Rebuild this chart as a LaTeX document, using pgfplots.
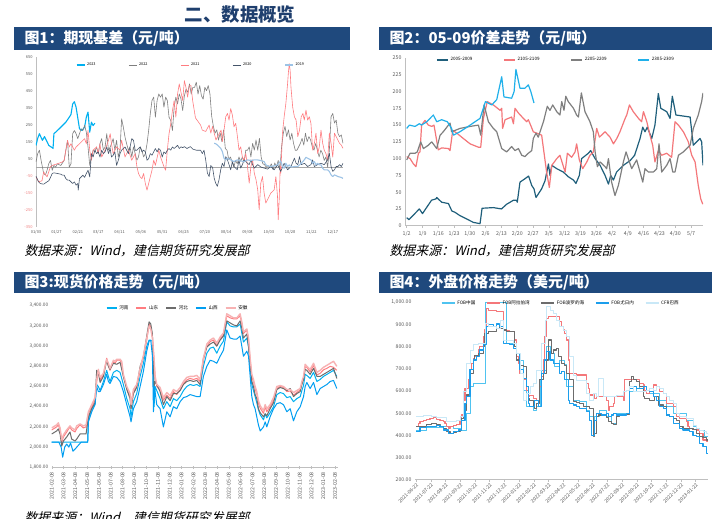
\documentclass[border=0pt]{standalone}
\usepackage{fontspec}
\setmainfont{Noto Sans CJK SC}[AutoFakeSlant=0.22]
\usepackage{pgfplots}
\pgfplotsset{compat=1.18}
\definecolor{hdr}{HTML}{1F497D}
\definecolor{ttl}{HTML}{1F3F6E}
\definecolor{cA}{HTML}{00B0F0}
\definecolor{cGray}{HTML}{7F7F7F}
\definecolor{cRed}{HTML}{FF7C80}
\definecolor{cNavy}{HTML}{44546A}
\definecolor{cPale}{HTML}{9DC3E6}
\definecolor{cTeal}{HTML}{1F5F7B}
\definecolor{cRed2}{HTML}{F4777A}
\definecolor{cBlue2}{HTML}{1FB0EA}
\definecolor{cPink}{HTML}{F7B2B3}
\definecolor{cFobCn}{HTML}{4FC3F0}
\definecolor{cBrazil}{HTML}{C9E8F7}
\definecolor{axgray}{HTML}{BFBFBF}
\definecolor{lblgray}{HTML}{595959}
\definecolor{negred}{HTML}{F08080}
\pgfplotsset{
  panel/.style={scale only axis, anchor=south west, clip=true,
    /pgf/number format/assume math mode=true,
    axis line style={draw=axgray, line width=0.5pt},
    tick style={draw=axgray, line width=0.4pt},
    tick label style={text=lblgray},
    every axis plot/.append style={no markers, line join=round},
    legend style={draw=none, fill=none, legend columns=-1, anchor=center, inner sep=0pt},
    legend cell align=left,
  },
}
\begin{document}
\begin{tikzpicture}
\path[use as bounding box, fill=white] (0,0) rectangle (712bp,-519bp);
% titles and header bars
\node[text=ttl, font=\fontsize{18.5}{18.5}\selectfont\bfseries] at (240bp,-15bp) {二、数据概览};
\fill[hdr] (14bp,-27bp) rectangle (350bp,-50bp);
\fill[hdr] (379bp,-27bp) rectangle (712bp,-50bp);
\fill[hdr] (14bp,-272bp) rectangle (350bp,-293bp);
\fill[hdr] (379bp,-272bp) rectangle (712bp,-293bp);
\node[anchor=west, text=white, font=\fontsize{15}{15}\selectfont\bfseries] at (21bp,-38.5bp) {图1：期现基差（元/吨）};
\node[anchor=west, text=white, font=\fontsize{15}{15}\selectfont\bfseries] at (386bp,-38.5bp) {图2：05-09价差走势（元/吨）};
\node[anchor=west, text=white, font=\fontsize{15}{15}\selectfont\bfseries] at (21bp,-282.5bp) {图3:现货价格走势（元/吨）};
\node[anchor=west, text=white, font=\fontsize{15}{15}\selectfont\bfseries] at (386bp,-282.5bp) {图4：外盘价格走势（美元/吨）};
\node[anchor=west, font=\fontsize{13}{13}\selectfont\itshape] at (21bp,-251bp) {数据来源：Wind，建信期货研究发展部};
\node[anchor=west, font=\fontsize{13}{13}\selectfont\itshape] at (386bp,-251bp) {数据来源：Wind，建信期货研究发展部};
\node[anchor=west, font=\fontsize{13}{13}\selectfont\itshape] at (21bp,-518bp) {数据来源：Wind，建信期货研究发展部};
\node[anchor=west, font=\fontsize{13}{13}\selectfont\itshape] at (386bp,-526bp) {数据来源：Wind，建信期货研究发展部};

% ---------------- Panel 1 ----------------
\begin{axis}[panel, at={(36bp,-226.7bp)}, width=307bp, height=170bp,
  xmin=0, xmax=360, ymin=-350, ymax=650,
  axis x line*=bottom, x axis line style={draw=none}, xtick style={draw=none},
  axis y line*=left, ytick style={draw=none},
  xtick={0,24,49,73,98,123,148,173,198,223,248,273,298,323,348},
  xticklabels={01/03,01/27,02/21,03/17,04/11,05/06,05/31,06/25,07/20,08/14,09/08,10/03,10/28,11/22,12/17},
  ytick={-350,-250,-150,-50,50,150,250,350,450,550,650},
  yticklabels={\textcolor{negred}{-350},\textcolor{negred}{-250},\textcolor{negred}{-150},\textcolor{negred}{-50},50,150,250,350,450,550,650},
  tick label style={font=\fontsize{4}{4}\selectfont},
  legend style={at={(0.505,0.951)}, font=\fontsize{3.8}{4}\selectfont, /tikz/every even column/.append style={column sep=31bp}},
  legend image code/.code={\draw[#1] (0bp,0bp) -- (8bp,0bp);},
]
\addplot[gray!70, line width=0.5pt, forget plot] coordinates {(0,0) (360,0)};
\addplot[cA, line width=1.1pt] coordinates {(0,128)(2,170)(4,197)(7.5,158)(10,180)(13,150)(15,128)(19,115)(20,110)(21,197)(25,215)(31,245)(35,265)(39,294)(41,310)(43,372)(45,385)(47,353)(49,290)(51,226)(54,216)(57,236)(59,294)(61,324)(63,206)(65,265)(67,245)(69,259)};
\addplot[cGray, line width=0.6pt] coordinates {(0,31)(2,80)(4,100)(6,40)(7.5,2)(9,-37)(11,-47)(13,-18)(15,21)(17,40)(19,-18)(21,11)(23,0)(25,20)(29,10)(33,40)(35,100)(37,158)(39,0)(41,20)(43,197)(45,216)(47,197)(49,168)(51,197)(53,226)(55,216)(57,246)(59,206)(61,119)(63,11)(65,60)(67,100)(69,90)(71,119)(73,80)(75,138)(77,168)(79,100)(81,119)(83,197)(85,100)(87,119)(88.5,138)(90.5,168)(92.5,100)(94.5,158)(96.5,60)(98.5,100)(100.4,285)(102.4,236)(104.4,177)(106.3,138)(108.3,100)(110.3,119)(112.3,60)(114.3,119)(116.3,80)(118.3,41)(120.2,60)(122.2,119)(124.2,100)(126.2,60)(128.2,80)(130.2,138)(132.1,216)(134,314)(136,392)(138,412)(140,294)(142,392)(144,431)(146,412)(148,431)(150,353)(152,412)(154,392)(156,294)(158,275)(160,216)(162,353)(164,412)(166,372)(168,431)(170,402)(172,333)(174,420)(176,460)(178,440)(180,490)(182,430)(184,470)(186,470)(188,500)(190,430)(192,480)(194,420)(196,400)(198,470)(200,450)(202,480)(204,430)(206,300)(208,240)(210,200)(212,220)(214,160)(216,200)(218,150)(220,220)(222,110)(224,100)(226,45)(228,60)(230,30)(232,0)(234,40)(236,20)(238,60)(240,35)(242,60)(244,30)(246,100)(248,100)(250,120)(252,60)(254,140)(256,100)(258,160)(260,100)(262,170)(264,60)(266,20)(268,15)(270,0)(272,10)(274,0)(276,20)(278,-15)(280,25)(282,0)(284,40)(286,-15)(288,120)(290,200)(292,240)(294,180)(296,220)(298,160)(300,200)(302,140)(304,100)(306,100)(308,120)(310,140)(312,170)(314,130)(316,200)(318,150)(320,180)(322,160)(324,120)(326,100)(328,140)(330,100)(332,60)(334,100)(336,80)(338,40)(340,60)(342,0)(344,100)(346,297)(348,316)(350,260)(352,277)(354,200)(356,180)(358,190)(360,140)};
\addplot[cRed, line width=0.6pt] coordinates {(0,-57)(3,-86)(7,-80)(9,-28)(13,-57)(17,4)(21,14)(25,20)(31,31)(33,40)(35,100)(37,158)(39,119)(41,138)(45,100)(47,119)(51,138)(55,158)(57,168)(59,138)(61,216)(63,100)(65,41)(67,100)(71,119)(73,80)(75,138)(77,60)(81,100)(85,158)(87,197)(88.5,138)(90.5,80)(94.5,119)(98.5,100)(100.4,158)(104.4,60)(108.3,100)(112.3,41)(116.3,80)(118.3,4)(120.2,-37)(122.2,-57)(124.2,-67)(126.2,-37)(128.2,-96)(130.2,-135)(132.1,-96)(134,-57)(136,-18)(138,41)(140,11)(144,100)(146,60)(150,4)(152,-18)(154,100)(156,197)(158,255)(160,333)(162,392)(164,294)(166,431)(168,490)(170,441)(172,392)(174,509)(175.8,470)(177.8,412)(179.8,480)(181.7,480)(183.7,392)(187,290)(193,248)(195,218)(199,210)(203,248)(205,200)(207,240)(209,200)(211,160)(213,180)(217,218)(218.5,150)(220.5,218)(222.5,297)(224.5,316)(226.4,277)(228.3,345)(230.3,306)(232.2,238)(234.2,258)(236.2,180)(238.1,100)(240,120)(242,60)(244,41)(246,80)(248,4)(250,-94)(252,4)(254,43)(256,-35)(258,-74)(260,-133)(261.7,-250)(263.6,-94)(265.6,-55)(267.5,-152)(269.5,-211)(271.5,-191)(273.4,-172)(275.4,-152)(279.3,-133)(281.3,-55)(283.2,-172)(284,-309)(285.2,-191)(286.4,4)(287.1,-35)(289,200)(291,297)(293,375)(295,490)(296,560)(297,609)(298,570)(299,470)(301,353)(303,297)(305,277)(307,180)(309,218)(311,297)(313,316)(314.6,277)(316.6,336)(318.5,277)(320.5,297)(322.4,258)(324.4,100)(326.4,140)(328.3,200)(330.3,80)(332.2,120)(334.2,218)(336.2,140)(338,100)(340,80)(342,43)(344,200)(346,140)(348,60)(350,200)(352,180)(354,160)(356,140)(358,130)(360,111)};
\addplot[cNavy, line width=0.6pt] coordinates {(0,-53)(3,-86)(5,-96)(9,-100)(13,-86)(15,-80)(17,-60)(19,-37)(21,-33)(25,-37)(29,-41)(31,-47)(33,-47)(35,-67)(37,-76)(39,-76)(41,-86)(43,-96)(45,-86)(47,-106)(49,-96)(49.5,-135)(51,-67)(53,-57)(55,-47)(57,-60)(59,-37)(61,-18)(63,-57)(65,80)(67,60)(69,100)(71,80)(73,90)(75,60)(77,100)(79,80)(81,90)(83,119)(85,80)(87,110)(88.5,60)(90.5,70)(92.5,90)(94.5,11)(96.5,40)(98.5,80)(100.4,100)(102.4,110)(104.4,119)(106.3,100)(108.3,80)(110.3,119)(112.3,168)(114.3,158)(116.3,100)(118.3,100)(120.2,110)(122.2,119)(124.2,90)(126.2,100)(128.2,90)(130.2,41)(132.1,50)(134,80)(136,70)(138,90)(140,110)(142,90)(144,110)(146,100)(148,60)(150,90)(152,80)(154,100)(156,110)(158,100)(160,119)(162,110)(164,119)(166,129)(168,110)(170,120)(172,115)(174,121)(177,110)(181,121)(184,106)(188,100)(193,100)(195,80)(197,100)(199,43)(201,-35)(203,-55)(205,10)(207,0)(209,-65)(210.7,-94)(212.6,-113)(214.6,-74)(216.6,-15)(218.5,23)(220.5,4)(222.5,62)(224.5,43)(226.4,15)(228.3,-15)(230.3,33)(232.2,4)(236,-15)(238,43)(240,-5)(242,15)(244,43)(248,23)(250,15)(252,43)(254,15)(256,-5)(260,15)(264,0)(267.5,-5)(271.5,-11)(275.4,4)(279.3,-15)(283.2,15)(287,-25)(291,23)(295,-15)(299,4)(303,53)(305,23)(307,15)(309,62)(311,15)(315,23)(318.5,4)(322.4,15)(324.4,43)(326.4,4)(330.3,15)(334.2,23)(338,15)(342,43)(344,82)(346,4)(348,-25)(350,-15)(352,4)(354,4)(356,15)(358,4)(360,23)};
\addplot[cPale, line width=1.1pt] coordinates {(209,141)(211,137)(212.6,131)(214.6,121)(216.6,111)(218.5,92)(220.5,53)(222.5,43)(224.5,53)(228.3,43)(232.2,33)(236.2,43)(240,37)(244,33)(248,43)(252,39)(255.8,43)(259.7,43)(263.6,39)(267.5,33)(269.5,14)(271.5,8)(275.4,4)(279.3,8)(283.2,14)(287,37)(289,4)(291,-6)(293,23)(295,4)(297,14)(299,0)(303,4)(307,4)(311,23)(314.6,43)(316.6,58)(318.5,53)(322.4,43)(324.4,23)(326.4,33)(328.3,14)(330.3,23)(332.2,14)(334.2,14)(336.2,-6)(338,-16)(342,-16)(344,-25)(346,-45)(348,-55)(350,-45)(354,-55)(358,-60)(360,-66)};
\legend{2023,2022,2021,2020,2019}
\end{axis}

% ---------------- Panel 2 ----------------
\begin{axis}[panel, at={(405bp,-225.7bp)}, width=298bp, height=167.7bp,
  xmin=-0.75, xmax=131.3, ymin=0, ymax=250,
  axis x line*=bottom, axis y line*=left, ytick style={draw=none},
  xtick align=outside, major tick length=2bp,
  xtick={0,7,...,126},
  xticklabels={1/2,1/9,1/16,1/23,1/30,2/6,2/13,2/20,2/27,3/5,3/12,3/19,3/26,4/2,4/9,4/16,4/23,4/30,5/7},
  ytick={0,25,...,250},
  tick label style={font=\fontsize{5.3}{5.5}\selectfont},
  legend style={at={(0.507,0.988)}, font=\fontsize{4.6}{5}\selectfont, /tikz/every even column/.append style={column sep=29bp}},
  legend image code/.code={\draw[#1] (0bp,0bp) -- (11bp,0bp);},
  every axis plot/.append style={line width=1.2pt},
]
\addplot[cTeal] coordinates {(0,12)(1,9)(5.6,25)(7,18)(9,28)(11,38)(13,40)(13.3,42)(15.5,35)(18.5,33)(20,22)(21.4,20)(23.6,15)(26.6,10)(29.5,5)(32.5,3)(33.4,26)(38.4,27)(42,25)(44.3,32)(47.3,38)(48.7,38)(49,35)(50.2,65)(52.4,70)(54,74)(55.4,60)(56.4,55)(57.3,42)(59.8,55)(61.3,67)(62.8,92)(63.5,75)(64.3,90)(66.5,85)(69.4,80)(71.6,73)(73.9,68)(75,63)(76.5,75)(77.5,100)(80.5,108)(81.5,112)(83.5,100)(85.7,90)(87.9,75)(89.4,62)(90.4,75)(91.6,68)(93,80)(96,90)(99,97)(101,105)(103.4,130)(104.6,147)(105.6,140)(106.6,147)(108.6,130)(110,150)(111.5,197)(112.6,175)(115.2,170)(116.7,160)(117.7,193)(119.3,165)(125.6,162)(127,120)(130,130)(130.7,125)(131.3,90)};
\addplot[cRed2] coordinates {(0,103)(1.5,100)(3,92)(4.1,88)(5.2,108)(5.9,110)(6.6,150)(8.1,157)(9.6,150)(11.1,148)(12.1,150)(14,113)(15.5,116)(18.5,115)(19.2,112)(20.4,142)(22.2,138)(25.1,130)(28.1,122)(31.8,117)(32.8,117)(34,160)(35.7,185)(38.4,180)(41.4,172)(42.1,175)(42.5,145)(43.6,158)(46.5,162)(47.3,152)(48,175)(49.5,168)(51.7,160)(53.2,155)(53.9,158)(54.9,150)(56.1,140)(57.6,138)(59.8,135)(62,80)(63.2,57)(64.3,90)(66.5,100)(67.9,105)(70.2,80)(71.2,108)(73.1,102)(74.6,110)(75.3,122)(76.5,98)(78,85)(79.8,95)(81.2,105)(82.7,110)(84.2,145)(85.4,132)(87.9,140)(90.1,132)(91.6,122)(93.1,130)(94.5,140)(96.8,160)(97.5,165)(98.7,180)(100.4,170)(102.7,160)(104.1,155)(104.9,170)(106.4,155)(107.8,135)(109,120)(110,95)(111.5,112)(113,105)(115.2,108)(117.4,102)(118.9,155)(120.4,150)(122.6,140)(124.8,125)(126.3,105)(127.8,95)(129.2,60)(130.3,40)(131.2,32)};
\addplot[cGray] coordinates {(0,98)(1.5,108)(3.7,108)(4.7,110)(6.2,125)(7.4,115)(9.6,120)(11.1,125)(13.3,115)(14.8,135)(16.2,140)(18.5,150)(19.2,153)(19.9,140)(23.6,145)(28.1,148)(31.8,150)(32.8,135)(34.3,180)(36.2,155)(38.4,145)(39.9,140)(42.1,115)(44.3,110)(46.5,118)(48,112)(49.5,115)(51,105)(52.4,103)(53.9,108)(55.4,112)(56.1,130)(57.3,138)(58.3,132)(60.6,155)(62.3,178)(63.5,172)(64.7,180)(66.5,170)(67.9,165)(68.7,185)(69.7,172)(70.5,193)(71.6,185)(73.9,175)(75.3,165)(76.1,162)(77.4,198)(79,170)(81.2,155)(82.7,140)(83.5,110)(84.5,88)(85.7,95)(87.9,88)(88.6,85)(89.4,100)(90.8,65)(92.3,45)(93.8,60)(96,95)(97.2,110)(98.2,100)(99.7,85)(101.9,98)(103.4,80)(104.6,65)(105.6,85)(107.1,80)(109.3,80)(110.8,85)(111.8,122)(113,80)(115.2,90)(116.7,100)(117.9,80)(118.9,80)(120.4,105)(122.6,110)(125.6,120)(127,145)(129.2,165)(130.7,185)(131.3,198)};
\addplot[cBlue2] coordinates {(0,145)(1.2,150)(3.7,148)(5.6,152)(6.6,150)(8.9,155)(11.8,165)(13.3,155)(15.5,158)(18,155)(19.9,145)(20.7,135)(23.6,140)(28.1,150)(32.5,160)(34.9,185)(37.7,180)(39.9,188)(42.1,222)(43.1,192)(46.5,190)(47.6,200)(48.4,233)(50.2,205)(52.4,205)(53.9,210)(55,200)(56.4,183)};
\legend{2005-2009,2105-2109,2205-2209,2305-2309}
\end{axis}

% ---------------- Panel 3 ----------------
\begin{axis}[panel, at={(51.7bp,-467.3bp)}, width=286.3bp, height=161.6bp,
  xmin=0, xmax=24.25, ymin=1800, ymax=3400,
  axis x line*=bottom, axis y line*=left, y axis line style={draw=none}, ytick style={draw=none},
  xtick align=center, major tick length=2.5bp,
  xtick={0,...,24},
  xticklabels={2021-02-08,2021-03-08,2021-04-08,2021-05-08,2021-06-08,2021-07-08,2021-08-08,2021-09-08,2021-10-08,2021-11-08,2021-12-08,2022-01-08,2022-02-08,2022-03-08,2022-04-08,2022-05-08,2022-06-08,2022-07-08,2022-08-08,2022-09-08,2022-10-08,2022-11-08,2022-12-08,2023-01-08,2023-02-08},
  x tick label style={rotate=90, anchor=east, font=\fontsize{5.3}{5.3}\selectfont},
  ytick={1800,2000,...,3400},
  y tick label style={font=\fontsize{4.8}{5}\selectfont, /pgf/number format/.cd, fixed, fixed zerofill, precision=2, 1000 sep={,}},
  legend style={at={(0.44,0.986)}, font=\fontsize{4.6}{5}\selectfont, /tikz/every even column/.append style={column sep=5bp}},
  legend image code/.code={\draw[#1, line width=1.6pt] (0bp,0bp) -- (10bp,0bp);},
  every axis plot/.append style={line width=1pt},
]
\addplot[cA] coordinates {(0,2050)(3.05,2050)(3.11,2280)(3.39,2380)(3.67,2430)(3.81,2620)(3.95,2600)(4.1,2560)(4.38,2650)(4.66,2760)(4.8,2700)(4.94,2650)(5.23,2740)(5.51,2760)(5.79,2740)(6.07,2620)(6.36,2480)(6.64,2380)(6.72,2300)(6.92,2450)(7.2,2530)(7.49,2700)(7.77,2830)(8.05,3000)(8.25,3060)(8.53,3050)(8.67,2400)(8.76,2600)(9.18,2480)(9.46,2380)(9.75,2450)(10.03,2400)(10.31,2480)(10.59,2460)(10.88,2500)(11.16,2560)(11.44,2600)(11.72,2620)(12.01,2610)(12.29,2620)(12.57,2600)(12.85,2800)(13.14,2930)(13.42,2980)(13.7,2990)(13.98,2930)(14.27,3000)(14.55,3050)(14.83,3240)(15.11,3200)(15.4,3190)(15.68,3190)(15.96,3220)(16.1,3130)(16.24,3040)(16.53,3080)(16.67,2990)(16.81,2800)(16.95,2620)(17.09,2560)(17.23,2500)(17.37,2440)(17.51,2370)(17.66,2320)(17.94,2270)(18.08,2330)(18.22,2290)(18.5,2340)(18.79,2400)(19.07,2520)(19.35,2540)(19.63,2530)(19.92,2490)(20.2,2500)(20.48,2450)(20.76,2480)(21.05,2500)(21.19,2560)(21.33,2610)(21.47,2720)(21.61,2710)(21.89,2680)(22.18,2740)(22.46,2650)(22.74,2670)(23.02,2700)(23.31,2720)(23.59,2740)(23.87,2760)(24.15,2700)};
\addplot[cRed] coordinates {(0,2170)(0.42,2200)(0.56,2220)(0.71,2170)(0.85,2050)(0.99,2100)(1.27,2150)(1.55,2200)(1.69,2170)(1.98,2150)(2.12,2185)(2.4,2220)(2.68,2190)(2.91,2200)(3.11,2335)(3.39,2400)(3.67,2465)(3.81,2650)(3.95,2750)(4.1,2665)(4.38,2715)(4.66,2880)(4.8,2810)(4.94,2760)(5.23,2845)(5.37,2830)(5.51,2860)(5.79,2860)(5.93,2830)(6.07,2700)(6.36,2580)(6.64,2500)(6.72,2385)(6.92,2550)(7.2,2600)(7.49,2760)(7.77,2895)(8.05,3060)(8.25,3220)(8.39,3190)(8.53,3090)(8.67,2860)(8.76,2680)(8.9,2600)(9.18,2565)(9.46,2465)(9.75,2515)(10.03,2480)(10.31,2550)(10.59,2520)(10.88,2565)(11.16,2630)(11.44,2665)(11.72,2680)(12.01,2670)(12.29,2680)(12.57,2650)(12.85,2860)(13.14,2995)(13.42,3045)(13.7,3060)(13.98,3000)(14.27,3075)(14.55,3110)(14.83,3300)(15.11,3280)(15.4,3270)(15.68,3270)(15.96,3300)(16.1,3225)(16.24,3125)(16.53,3160)(16.67,3060)(16.81,2860)(16.95,2700)(17.09,2650)(17.23,2580)(17.37,2530)(17.51,2435)(17.66,2385)(17.94,2335)(18.08,2400)(18.22,2350)(18.5,2400)(18.79,2465)(19.07,2580)(19.35,2600)(19.63,2590)(19.92,2550)(20.2,2555)(20.48,2515)(20.76,2540)(21.05,2565)(21.19,2630)(21.33,2680)(21.47,2795)(21.61,2790)(21.89,2745)(22.18,2810)(22.46,2715)(22.74,2730)(23.02,2765)(23.31,2780)(23.59,2800)(23.87,2790)(24.15,2760)};
\addplot[cGray!85!black] coordinates {(0,2130)(0.42,2160)(0.56,2180)(0.71,2130)(0.85,2010)(0.99,2060)(1.27,2100)(1.55,2150)(1.69,2080)(1.98,2060)(2.12,2080)(2.4,2130)(2.91,2130)(3.11,2300)(3.39,2380)(3.67,2440)(3.81,2760)(3.95,2740)(4.1,2640)(4.38,2700)(4.66,2860)(4.8,2800)(4.94,2770)(5.23,2830)(5.51,2820)(5.79,2840)(6.07,2700)(6.36,2570)(6.64,2480)(6.72,2380)(6.92,2530)(7.2,2590)(7.49,2800)(7.77,2890)(8.05,3100)(8.25,3240)(8.39,3220)(8.53,3120)(8.67,2600)(8.76,2650)(9.18,2550)(9.46,2420)(9.75,2500)(10.03,2460)(10.31,2530)(10.59,2530)(10.88,2560)(11.16,2620)(11.44,2650)(11.72,2660)(12.01,2650)(12.29,2660)(12.57,2620)(12.85,2880)(13.14,2990)(13.42,3020)(13.7,3040)(13.98,3000)(14.27,3060)(14.55,3100)(14.83,3250)(15.11,3230)(15.4,3210)(15.68,3200)(15.96,3250)(16.1,3180)(16.24,3080)(16.53,3120)(16.67,3000)(16.81,2800)(16.95,2650)(17.09,2600)(17.23,2520)(17.37,2480)(17.51,2380)(17.66,2340)(17.94,2300)(18.08,2330)(18.22,2310)(18.5,2380)(18.79,2440)(19.07,2570)(19.35,2590)(19.63,2580)(19.92,2560)(20.2,2580)(20.48,2500)(20.76,2530)(21.05,2550)(21.19,2620)(21.33,2670)(21.47,2770)(21.61,2760)(21.89,2720)(22.18,2780)(22.46,2700)(22.74,2700)(23.02,2720)(23.31,2740)(23.59,2760)(23.87,2780)(24.15,2680)};
\addplot[cA!90!blue] coordinates {(0,2050)(0.6,2050)(0.8,2000)(0.93,1900)(1.1,2000)(1.27,2030)(1.45,2000)(1.6,2040)(1.8,1960)(1.98,1980)(2.2,2010)(2.5,2050)(3.05,2050)(3.11,2250)(3.39,2350)(3.67,2420)(3.81,2600)(3.95,2550)(4.1,2550)(4.38,2620)(4.66,2720)(4.8,2650)(4.94,2630)(5.23,2700)(5.51,2690)(5.79,2650)(6.07,2550)(6.36,2420)(6.64,2300)(6.72,2250)(6.92,2380)(7.2,2450)(7.49,2600)(7.77,2750)(8.05,2950)(8.25,3050)(8.39,3060)(8.53,2900)(8.62,2350)(8.7,2600)(8.9,2420)(9.18,2380)(9.46,2200)(9.75,2350)(10.03,2300)(10.31,2400)(10.59,2380)(10.88,2450)(11.16,2490)(11.44,2500)(11.72,2520)(12.01,2510)(12.29,2500)(12.57,2500)(12.85,2700)(13.14,2800)(13.42,2860)(13.7,2850)(13.98,2830)(14.27,2900)(14.55,2960)(14.83,3160)(15.11,3080)(15.4,3070)(15.68,3070)(15.96,3100)(16.1,3000)(16.24,2900)(16.53,2950)(16.67,2900)(16.81,2700)(16.95,2500)(17.09,2420)(17.23,2380)(17.37,2300)(17.51,2220)(17.66,2160)(17.94,2200)(18.08,2250)(18.22,2200)(18.5,2300)(18.79,2380)(19.07,2430)(19.35,2440)(19.63,2420)(19.92,2350)(20.2,2380)(20.48,2260)(20.76,2350)(21.05,2400)(21.19,2450)(21.33,2500)(21.47,2600)(21.61,2640)(21.89,2580)(22.18,2640)(22.46,2520)(22.74,2580)(23.02,2600)(23.31,2620)(23.59,2650)(23.87,2660)(24.15,2580)};
\addplot[cPink, line width=1.4pt] coordinates {(0,2190)(0.42,2220)(0.56,2240)(0.71,2190)(0.85,2070)(0.99,2120)(1.27,2170)(1.55,2210)(1.69,2190)(1.98,2170)(2.12,2210)(2.4,2230)(2.68,2210)(2.91,2220)(3.11,2350)(3.39,2420)(3.67,2490)(3.81,2670)(3.95,2770)(4.1,2690)(4.38,2730)(4.66,2870)(4.8,2830)(4.94,2780)(5.23,2860)(5.37,2850)(5.51,2870)(5.79,2870)(5.93,2850)(6.07,2720)(6.36,2600)(6.64,2530)(6.72,2420)(6.92,2570)(7.2,2620)(7.49,2780)(7.77,2910)(8.05,3080)(8.25,3200)(8.39,3170)(8.53,3080)(8.67,2880)(8.76,2700)(8.9,2620)(9.18,2590)(9.46,2490)(9.75,2540)(10.03,2510)(10.31,2570)(10.59,2550)(10.88,2590)(11.16,2650)(11.44,2690)(11.72,2700)(12.01,2700)(12.29,2710)(12.57,2670)(12.85,2880)(13.14,3020)(13.42,3060)(13.7,3080)(13.98,3030)(14.27,3090)(14.55,3130)(14.83,3320)(15.11,3300)(15.4,3280)(15.68,3280)(15.96,3320)(16.1,3240)(16.24,3140)(16.53,3170)(16.67,3080)(16.81,2880)(16.95,2720)(17.09,2670)(17.23,2600)(17.37,2550)(17.51,2460)(17.66,2410)(17.94,2360)(18.08,2420)(18.22,2380)(18.5,2420)(18.79,2490)(19.07,2600)(19.35,2610)(19.63,2600)(19.92,2570)(20.2,2570)(20.48,2540)(20.76,2560)(21.05,2580)(21.19,2650)(21.33,2700)(21.47,2820)(21.61,2800)(21.89,2770)(22.18,2830)(22.46,2740)(22.74,2760)(23.02,2790)(23.31,2810)(23.59,2830)(23.87,2850)(24.15,2800)};
\legend{河南,山东,河北,山西,安徽}
\end{axis}

% ---------------- Panel 4 ----------------
\begin{axis}[panel, at={(415bp,-479.7bp)}, width=293bp, height=177.4bp,
  xmin=-0.07, xmax=19.84, ymin=200, ymax=1000,
  axis x line*=bottom, axis y line*=left, y axis line style={draw=none}, ytick style={draw=none},
  xtick align=outside, major tick length=2bp,
  xtick={0,...,19},
  xticklabels={2021-06-22,2021-07-22,2021-08-22,2021-09-22,2021-10-22,2021-11-22,2021-12-22,2022-01-22,2022-02-22,2022-03-22,2022-04-22,2022-05-22,2022-06-22,2022-07-22,2022-08-22,2022-09-22,2022-10-22,2022-11-22,2022-12-22,2023-01-22},
  x tick label style={rotate=45, anchor=north east, inner sep=0.5pt, font=\fontsize{5}{5}\selectfont},
  ytick={200,300,...,1000},
  y tick label style={font=\fontsize{5.2}{5.2}\selectfont, /pgf/number format/.cd, fixed, fixed zerofill, precision=2, 1000 sep={,}},
  legend style={at={(0.498,0.996)}, font=\fontsize{4.6}{5}\selectfont, /tikz/every even column/.append style={column sep=9bp}},
  legend image code/.code={\draw[#1, line width=1.2pt] (0bp,0bp) -- (13bp,0bp);},
  every axis plot/.append style={line width=1.1pt, const plot},
]
\addplot[cFobCn, line width=0.7pt] coordinates {(0,424)(0.72,436)(1.86,439)(2.53,432)(2.99,424)(3.44,500)(3.67,620)(3.89,635)(4.57,635)(4.68,998)(6.04,998)(6.15,815)(6.61,800)(6.83,740)(7.29,604)(7.51,530)(7.96,515)(8.19,530)(8.42,650)(8.53,695)(8.87,800)(9.1,770)(9.43,710)(9.77,740)(10.11,720)(10.23,620)(10.68,560)(11.13,552)(11.58,514)(11.81,484)(12.04,416)(12.15,484)(12.49,514)(12.94,484)(13.28,454)(13.62,499)(14.3,499)(14.52,597)(14.98,612)(15.2,620)(15.66,589)(16.11,589)(16.56,559)(17.01,529)(17.47,499)(17.92,499)(18.37,469)(18.82,439)(19.05,432)(19.28,424)(19.62,394)(19.84,394)};
\addplot[cRed2] coordinates {(0,439)(0.16,454)(0.27,462)(0.5,469)(0.72,472)(0.95,477)(1.18,481)(1.4,472)(1.63,469)(1.86,462)(1.97,454)(2.08,439)(2.19,432)(2.31,439)(2.53,444)(2.76,447)(2.99,469)(3.1,492)(3.21,559)(3.33,612)(3.44,612)(3.55,650)(3.67,695)(3.78,725)(3.89,747)(4.0,755)(4.23,785)(4.34,800)(4.57,845)(4.68,875)(4.8,973)(4.91,965)(5.14,965)(5.48,958)(5.7,958)(5.93,875)(6.15,872)(6.38,870)(6.61,870)(6.72,830)(6.83,755)(6.95,725)(7.06,680)(7.29,650)(7.51,604)(7.62,574)(7.74,581)(7.96,567)(8.19,559)(8.42,620)(8.53,665)(8.64,740)(8.76,845)(8.87,928)(8.98,938)(9.32,938)(9.66,935)(9.77,913)(9.89,890)(10.0,875)(10.11,860)(10.23,830)(10.34,740)(10.45,680)(10.68,680)(10.9,672)(11.13,672)(11.47,672)(11.58,635)(11.7,612)(11.81,582)(12.04,582)(12.15,567)(12.26,574)(12.71,574)(12.94,559)(13.05,514)(13.17,529)(13.39,544)(13.5,574)(13.62,574)(13.85,574)(14.07,559)(14.19,650)(14.52,653)(14.75,650)(14.98,650)(15.2,635)(15.43,627)(15.54,604)(15.66,589)(15.88,597)(16.11,627)(16.33,622)(16.56,597)(16.79,589)(17.01,544)(17.24,544)(17.47,529)(17.69,484)(17.92,477)(18.14,475)(18.37,462)(18.48,439)(18.6,432)(18.82,427)(19.05,424)(19.28,409)(19.5,379)(19.73,373)(19.84,373)};
\addplot[cGray!85!black] coordinates {(0,439)(0.27,439)(0.72,447)(1.06,454)(1.4,447)(1.63,439)(1.86,432)(2.08,417)(2.31,409)(2.53,412)(2.76,417)(2.99,424)(3.1,477)(3.21,514)(3.44,582)(3.67,680)(3.89,740)(4.0,762)(4.23,770)(4.57,800)(4.68,860)(4.91,868)(5.14,870)(5.48,898)(5.7,883)(5.93,875)(6.15,870)(6.61,868)(6.72,800)(6.83,740)(7.06,717)(7.29,710)(7.51,620)(7.62,567)(7.74,559)(7.96,529)(8.08,522)(8.19,544)(8.42,650)(8.64,680)(8.87,740)(8.98,830)(9.1,830)(9.21,770)(9.32,785)(9.55,790)(9.66,755)(9.89,725)(10.11,717)(10.23,680)(10.45,650)(10.68,552)(10.9,548)(11.13,544)(11.36,529)(11.58,529)(11.81,522)(12.04,394)(12.15,410)(12.26,484)(12.38,492)(12.6,492)(12.83,492)(12.94,480)(13.05,462)(13.28,454)(13.39,447)(13.62,484)(13.85,496)(14.3,496)(14.52,642)(14.64,665)(14.75,650)(14.98,642)(15.2,620)(15.43,574)(15.54,567)(15.88,559)(16.11,559)(16.22,574)(16.45,537)(16.79,529)(17.01,492)(17.24,484)(17.47,475)(17.69,469)(17.92,439)(18.14,432)(18.37,432)(18.82,425)(19.05,409)(19.28,394)(19.5,390)(19.73,379)(19.84,379)};
\addplot[cBlue2!90!blue] coordinates {(0,417)(0.27,436)(0.72,439)(1.4,444)(1.63,439)(1.86,424)(2.19,409)(2.53,417)(2.87,424)(3.1,469)(3.33,544)(3.44,574)(3.67,695)(3.89,740)(4.12,755)(4.34,785)(4.57,808)(4.8,890)(4.91,898)(5.25,890)(5.48,902)(5.7,890)(5.93,815)(6.38,808)(6.61,793)(6.83,770)(7.06,695)(7.29,657)(7.51,620)(7.62,544)(7.74,529)(8.08,559)(8.3,529)(8.53,680)(8.76,740)(8.87,778)(9.1,740)(9.32,725)(9.66,725)(9.77,680)(9.89,690)(10.11,650)(10.34,559)(10.45,544)(10.68,537)(10.9,529)(11.13,522)(11.36,522)(11.58,507)(11.81,469)(11.92,401)(12.04,401)(12.15,469)(12.26,499)(12.6,492)(12.94,499)(13.05,484)(13.28,492)(13.39,499)(13.62,492)(13.85,492)(14.3,499)(14.52,612)(14.75,620)(14.98,612)(15.2,612)(15.43,620)(15.66,604)(15.88,597)(16.11,574)(16.33,559)(16.56,529)(16.79,522)(17.01,492)(17.24,484)(17.47,454)(17.69,454)(17.92,432)(18.14,424)(18.37,424)(18.6,417)(18.82,401)(19.05,394)(19.28,364)(19.5,349)(19.73,319)(19.84,319)};
\addplot[cBrazil, line width=0.8pt] coordinates {(0,484)(0.5,492)(1.06,484)(1.4,481)(2.08,462)(2.76,469)(2.99,484)(3.21,597)(3.44,725)(3.67,785)(3.89,808)(4.23,815)(4.46,815)(4.68,905)(4.91,890)(5.48,883)(5.7,920)(5.93,830)(6.15,830)(6.61,815)(6.83,770)(7.06,680)(7.29,559)(7.51,589)(7.74,620)(7.96,635)(8.19,695)(8.53,815)(8.76,920)(8.87,980)(9.1,965)(9.32,950)(9.55,920)(9.77,890)(10.0,875)(10.23,845)(10.45,755)(10.68,672)(10.9,650)(11.36,650)(11.58,589)(11.81,559)(12.04,589)(12.26,574)(12.38,657)(12.6,657)(12.71,574)(12.94,574)(13.62,582)(13.85,582)(14.07,597)(14.3,604)(14.52,620)(14.75,597)(15.2,597)(15.66,604)(15.88,612)(16.11,604)(16.33,620)(16.56,612)(16.79,589)(17.01,574)(17.24,559)(17.47,544)(17.69,499)(17.92,484)(18.37,477)(18.82,447)(19.05,432)(19.28,424)(19.5,417)(19.73,409)(19.84,394)};
\legend{FOB中国,FOB阿拉伯湾,FOB波罗的海,FOB尤日内,CFR巴西}
\end{axis}
\end{tikzpicture}
\end{document}
